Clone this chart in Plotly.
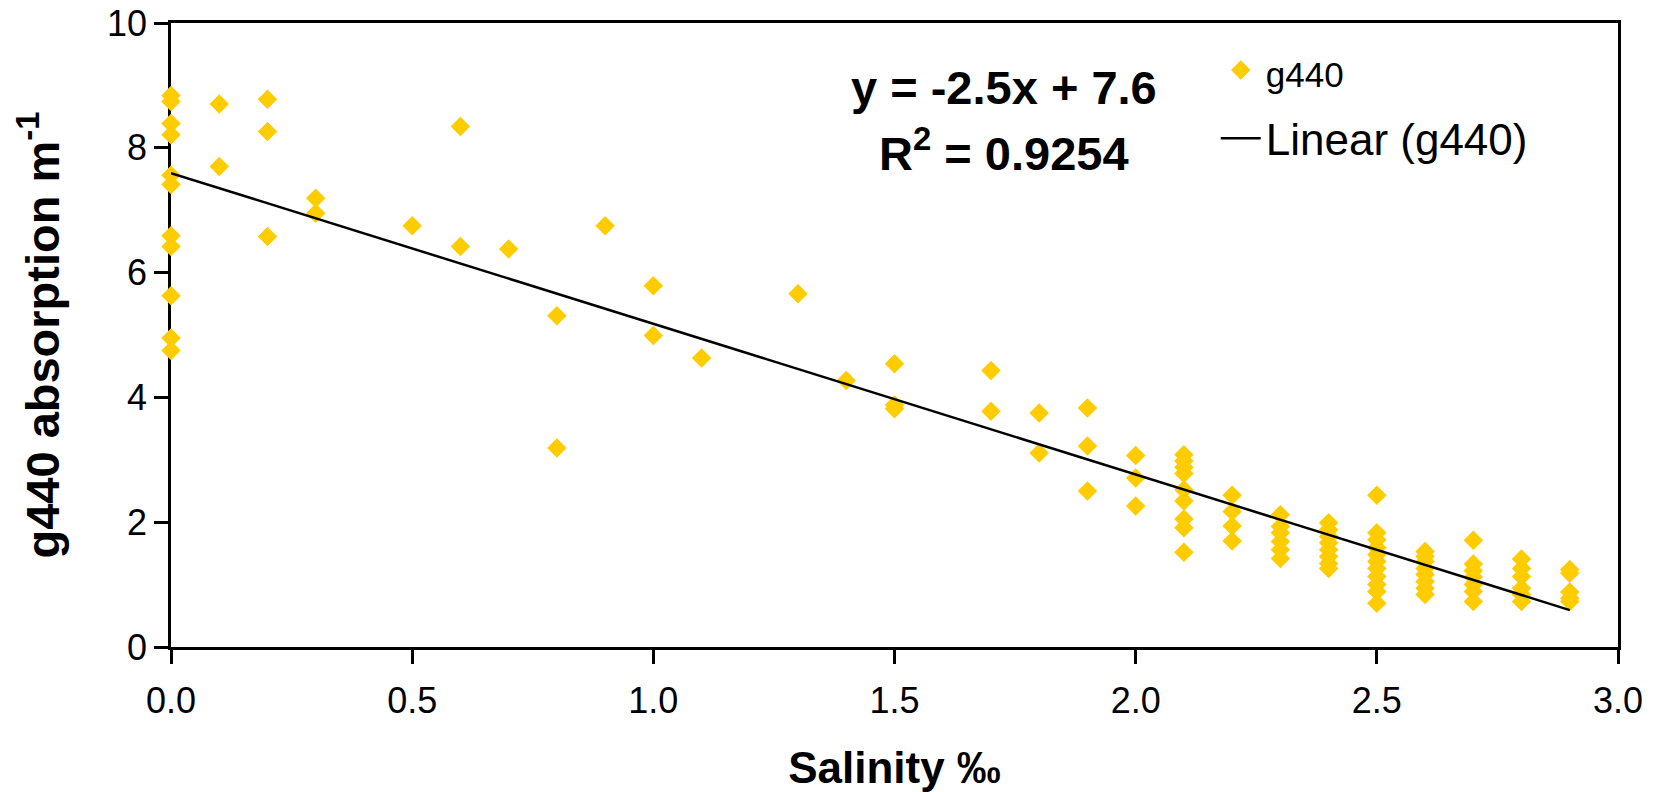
import numpy as np
import plotly.graph_objects as go

# Salinity (‰) and g440 absorption (m^-1)
salinity = (
    [0.0] * 11 + [0.1] * 2 + [0.2] * 3 + [0.3] * 2 + [0.5] + [0.6] * 2 + [0.7]
    + [0.8] * 2 + [0.9] + [1.0] * 2 + [1.1] + [1.3] + [1.4] + [1.5] * 3
    + [1.7] * 2 + [1.8] * 2 + [1.9] * 3 + [2.0] * 3 + [2.1] * 9 + [2.2] * 4
    + [2.3] * 6 + [2.4] * 8 + [2.5] * 11 + [2.6] * 8 + [2.7] * 7 + [2.8] * 6
    + [2.9] * 5
)
g440 = [
    8.84, 8.74, 8.39, 8.21, 7.56, 7.41, 6.59, 6.42, 5.63, 4.95, 4.75,   # 0.0
    8.70, 7.70,                                                         # 0.1
    8.78, 8.26, 6.58,                                                   # 0.2
    7.19, 6.95,                                                         # 0.3
    6.75,                                                               # 0.5
    8.34, 6.42,                                                         # 0.6
    6.38,                                                               # 0.7
    5.31, 3.19,                                                         # 0.8
    6.75,                                                               # 0.9
    5.79, 4.99,                                                         # 1.0
    4.63,                                                               # 1.1
    5.66,                                                               # 1.3
    4.27,                                                               # 1.4
    4.54, 3.88, 3.82,                                                   # 1.5
    4.43, 3.78,                                                         # 1.7
    3.75, 3.11,                                                         # 1.8
    3.83, 3.22, 2.50,                                                   # 1.9
    3.07, 2.71, 2.26,                                                   # 2.0
    3.08, 2.98, 2.88, 2.78, 2.52, 2.34, 2.05, 1.91, 1.52,               # 2.1
    2.43, 2.17, 1.94, 1.70,                                             # 2.2
    2.12, 1.93, 1.83, 1.69, 1.56, 1.42,                                 # 2.3
    1.99, 1.88, 1.77, 1.67, 1.56, 1.45, 1.34, 1.26,                     # 2.4
    2.43, 1.83, 1.72, 1.59, 1.48, 1.37, 1.26, 1.13, 1.00, 0.89, 0.70,   # 2.5
    1.53, 1.45, 1.37, 1.26, 1.16, 1.05, 0.94, 0.84,                     # 2.6
    1.71, 1.33, 1.22, 1.12, 1.00, 0.89, 0.73,                           # 2.7
    1.41, 1.26, 1.13, 0.94, 0.84, 0.73,                                 # 2.8
    1.24, 1.18, 0.88, 0.78, 0.73,                                       # 2.9
]

x_ticks = [0.0, 0.5, 1.0, 1.5, 2.0, 2.5, 3.0]
y_ticks = [0, 2, 4, 6, 8, 10]
equation_text = "y = -2.5x + 7.6"
r2_text = "R<sup>2</sup> = 0.9254"

# Linear trend fitted from the data
xs = np.array(salinity)
ys = np.array(g440)
slope, intercept = np.polyfit(xs, ys, 1)
trend_x = np.array([xs.min(), xs.max()])
trend_y = slope * trend_x + intercept

FONT = "Liberation Sans, Arial, sans-serif"

fig = go.Figure()
fig.add_trace(go.Scatter(
    x=salinity, y=g440, mode="markers",
    name="<span style='font-size:35px'>g440</span>",
    marker=dict(symbol="diamond", size=15, color="#FFCC00", line=dict(width=0)),
    cliponaxis=False, legendgroup="a",
))
fig.add_trace(go.Scatter(
    x=trend_x, y=trend_y, mode="lines", name="Linear (g440)",
    line=dict(color="black", width=2.5), legendgroup="b",
))

fig.add_annotation(x=0.576, y=0.897, xref="paper", yref="paper",
                   xanchor="center", yanchor="middle",
                   text=f"<b>{equation_text}</b>", showarrow=False,
                   font=dict(family=FONT, size=47, color="black"))
fig.add_annotation(x=0.576, y=0.797, xref="paper", yref="paper",
                   xanchor="center", yanchor="middle",
                   text=f"<b>{r2_text}</b>", showarrow=False,
                   font=dict(family=FONT, size=47, color="black"))

fig.update_layout(
    width=1657, height=792,
    margin=dict(l=171, r=39, t=23, b=145, autoexpand=False),
    paper_bgcolor="white", plot_bgcolor="white",
    font=dict(family=FONT, color="black"),
    legend=dict(x=0.722, y=0.981, xanchor="left", yanchor="top",
                font=dict(family=FONT, size=44, color="black"),
                bgcolor="rgba(0,0,0,0)", tracegroupgap=8,
                itemwidth=40),
    showlegend=True,
)
fig.update_xaxes(
    range=[0, 3], tickvals=x_ticks, tickformat=".1f", automargin=False,
    showline=True, linecolor="black", linewidth=2.5, mirror=True,
    ticks="outside", ticklen=14, tickwidth=2.5, tickcolor="black",
    ticklabelstandoff=6, ticklabeloverflow="allow",
    showgrid=False, zeroline=False, layer="below traces",
    tickfont=dict(family=FONT, size=36, color="black"),
    title=dict(text="<b>Salinity ‰</b>", font=dict(family=FONT, size=44, color="black"),
               standoff=36),
)
fig.update_yaxes(
    range=[0, 10], tickvals=y_ticks, automargin=False,
    showline=True, linecolor="black", linewidth=2.5, mirror=True,
    ticks="outside", ticklen=14, tickwidth=2.5, tickcolor="black",
    ticklabeloverflow="allow",
    showgrid=False, zeroline=False, layer="below traces",
    tickfont=dict(family=FONT, size=36, color="black"),
    title=dict(text="<b>g440 absorption m<sup>-1</sup></b>",
               font=dict(family=FONT, size=47, color="black"), standoff=33),
)

fig.write_html("out.html", config={"displayModeBar": False},
               post_script="document.body.style.margin='0';")
